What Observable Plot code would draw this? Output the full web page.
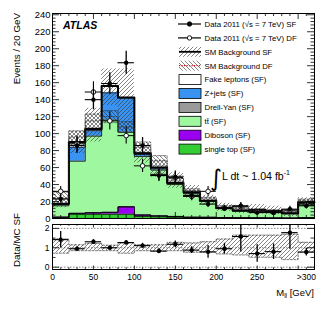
<!DOCTYPE html>
<html><head><meta charset="utf-8">
<script src="https://cdn.jsdelivr.net/npm/d3@7"></script>
<script src="https://cdn.jsdelivr.net/npm/@observablehq/plot@0.6"></script>
<style>
html,body{margin:0;padding:0;background:#fff;}
#wrap{position:relative;width:331px;height:318px;overflow:hidden;font-family:"Liberation Sans",Arial,Helvetica,sans-serif;}
#wrap > svg{position:absolute;left:0;overflow:visible;}
</style></head><body>
<div id="wrap"></div>
<script>
// ---------- data ----------
const binEdges = [0,20,40,60,80,100,120,140,160,180,200,220,240,260,280,300,320];
const xTickValues = [0,50,100,150,200,250,310];
const xTickLabels = ["0","50","100","150","200","250",">300"];
const yTickValues = [0,20,40,60,80,100,120,140,160,180,200,220,240];
const ratioTickValues = [0,1,2];

// SF background components, stacked bottom to top
const singleTop = [1,5,5,5,5,2.5,2,1.5,1,1,0.7,0.5,0.5,0.4,0.3,0.5];
const diboson   = [0.5,0.8,1.5,2,8.5,1.5,1,0.8,0.5,0.4,0.3,0.3,0.2,0.2,0.2,0.4];
const drellYan  = [0.3,0.5,0.5,0.5,0.5,0.3,0.2,0.2,0.1,0.1,0.1,0.1,0.1,0.1,0.1,0.1];
const ttbar     = [13.2,61.2,90,108.5,87.5,68.7,53.8,37.5,27.4,18.5,10.4,7.7,8.3,7.2,4.9,16.5];
const zjets     = [1.5,16.5,6.5,32,40.5,2.5,1.5,1,1,0.5,0.5,0.4,0.4,0.3,0.3,0.5];
const fakes     = [1,6,2,8,0.5,1.5,1.5,1,1,0.5,0.5,0.5,0.5,0.5,0.4,1];

const sfBandLo = [12.6,76.5,90,133,103,65.5,49,35.7,24,16,8.5,6,5.1,4.4,2.4,14.6];
const sfBandHi = [25.4,103.5,130,176,176,88.5,69,53.8,38.8,27.5,18,15.7,16.5,14.4,10.5,24.3];

const dfTotal  = [24,96,115,120,108,84,68,47,33,23,13.5,11,10,9,8,21];
const dfBandLo = [17,89,107,113,102,78,62,44.5,31,21.2,12,9.5,8.5,7.8,6.8,19.2];
const dfBandHi = [31,103,123,127,114,90,74,50,35,25,15,12.5,11.5,10.2,9.2,22.8];

const dataSF    = [23,86,140,159,183.5,86,50.6,49,27,17,12,15,7,7,11,15];
const dataSFErr = [5,9.3,12,12.6,13.5,9.3,7.1,7,5.2,4.1,3.5,3.9,2.6,2.6,3.3,3.9];
const dataDF    = [32,88,149,115,97.6,62,52,48,26,32,12,14,8,7,10,16];
const dataDFErr = [5.7,9.4,12.2,10.7,9.9,7.9,7.2,6.9,5.1,5.7,3.5,3.7,2.8,2.6,3.1,4];

const ratio       = [1.42,0.95,1.31,1.0,1.27,1.11,0.83,1.18,0.88,0.79,0.95,1.58,0.7,0.8,1.78,0.78];
const ratioErr    = [0.42,0.1,0.11,0.08,0.1,0.12,0.12,0.17,0.17,0.33,0.28,0.8,0.45,0.4,0.85,0.2];
const ratioBandLo = [0.72,0.85,0.85,0.85,0.72,0.85,0.82,0.85,0.77,0.77,0.68,0.63,0.51,0.51,0.39,0.77];
const ratioBandHi = [1.45,1.15,1.23,1.13,1.25,1.15,1.15,1.28,1.25,1.31,1.45,1.65,1.65,1.65,1.7,1.28];

const compNames  = ["single top (SF)","Diboson (SF)","Drell-Yan (SF)","tt\u0304 (SF)","Z+jets (SF)","Fake leptons (SF)"];
const compValues = [singleTop, diboson, drellYan, ttbar, zjets, fakes];
const compColors = ["#33cc33","#9b00f0","#9a9a9a","#9ff79f","#3a93f0","#ffffff"];

const legendLabels = ["Data 2011 (\u221As = 7 TeV) SF","Data 2011 (\u221As = 7 TeV) DF","SM Background SF","SM Background DF",
  "Fake leptons (SF)","Z+jets (SF)","Drell-Yan (SF)","tt\u0304 (SF)","Diboson (SF)","single top (SF)"];
const legendKinds  = ["dataSF","dataDF","bandSF","bandDF","box","box","box","box","box","box"];
const legendColors = [null,null,null,null,"#ffffff","#3a93f0","#9a9a9a","#9ff79f","#9b00f0","#33cc33"];

// ---------- helpers ----------
const N = binEdges.length - 1;
const bins = d3.range(N).map(i => ({i, lo: binEdges[i], hi: binEdges[i+1], mid: (binEdges[i]+binEdges[i+1])/2}));
const steps = vals => { const p = vals.map((v,i)=>({x: binEdges[i], y: v})); p.push({x: binEdges[N], y: vals[N-1]}); return p; };
const bandSteps = (lo, hi) => { const p = lo.map((v,i)=>({x: binEdges[i], y1: v, y2: hi[i]})); p.push({x: binEdges[N], y1: lo[N-1], y2: hi[N-1]}); return p; };

let cum = new Array(N).fill(0);
const layers = compValues.map(vals => {
  const lo = cum.slice();
  cum = cum.map((c,i) => c + vals[i]);
  return {lo, hi: cum.slice()};
});
const sfTotal = cum.slice();

const FONT = '"Liberation Sans", Arial, Helvetica, sans-serif';
const W = 331, mL = 52, mR = 17;
const mainH = 220, mT = 13, mB = 2;
const plotW = W - mL - mR, plotH = mainH - mT - mB;
const rH = 98, rT = 4, rB = 49, rPlotH = rH - rT - rB;

const wrap = document.getElementById("wrap");

const defsSvg = d3.select(wrap).append("svg").attr("width",0).attr("height",0).style("position","absolute");
const defs = defsSvg.append("defs");
defs.append("pattern").attr("id","hSF").attr("patternUnits","userSpaceOnUse").attr("width",4).attr("height",4)
  .append("path").attr("d","M-1,1 L1,-1 M0,4 L4,0 M3,5 L5,3").attr("stroke","#333").attr("stroke-width",0.6);
defs.append("pattern").attr("id","hDF").attr("patternUnits","userSpaceOnUse").attr("width",4).attr("height",4)
  .append("path").attr("d","M-1,3 L1,5 M0,0 L4,4 M3,-1 L5,1").attr("stroke","#333").attr("stroke-width",0.6);

function frameTicks(xMaj, xMin, yMaj, yMin, pw, ph, xl, yl) {
  const t = {stroke: "black", strokeWidth: 0.8};
  return [
    Plot.ruleY(yMaj, {y: d => d, insetRight: pw - yl, ...t}),
    Plot.ruleY(yMaj, {y: d => d, insetLeft: pw - yl, ...t}),
    Plot.ruleY(yMin, {y: d => d, insetRight: pw - yl/2, ...t}),
    Plot.ruleY(yMin, {y: d => d, insetLeft: pw - yl/2, ...t}),
    Plot.ruleX(xMaj, {x: d => d, insetTop: ph - xl, ...t}),
    Plot.ruleX(xMaj, {x: d => d, insetBottom: ph - xl, ...t}),
    Plot.ruleX(xMin, {x: d => d, insetTop: ph - xl/2, ...t}),
    Plot.ruleX(xMin, {x: d => d, insetBottom: ph - xl/2, ...t})
  ];
}
const xMaj = d3.range(0, 301, 50);
const xMin = d3.range(0, 321, 10).filter(v => v % 50 !== 0);
const yMin = d3.range(0, 242, 4).filter(v => v % 20 !== 0);

// ---------- main panel ----------
const mainMarks = [];
layers.forEach((L, k) => {
  mainMarks.push(Plot.area(bandSteps(L.lo, L.hi), {x1: "x", y1: "y1", y2: "y2", curve: "step-after", fill: compColors[k]}));
});
layers.forEach((L, k) => {
  mainMarks.push(Plot.line(steps(L.hi), {x: "x", y: "y", curve: "step-after", stroke: "black", strokeWidth: 0.8}));
});
mainMarks.push(
  Plot.area(bandSteps(dfBandLo, dfBandHi), {x1: "x", y1: "y1", y2: "y2", curve: "step-after", fill: "url(#hDF)"}),
  Plot.line(steps(dfBandLo), {x: "x", y: "y", curve: "step-after", stroke: "#222", strokeWidth: 0.6, strokeDasharray: "2,1.5"}),
  Plot.line(steps(dfBandHi), {x: "x", y: "y", curve: "step-after", stroke: "#222", strokeWidth: 0.6, strokeDasharray: "2,1.5"}),
  Plot.area(bandSteps(sfBandLo, sfBandHi), {x1: "x", y1: "y1", y2: "y2", curve: "step-after", fill: "url(#hSF)"}),
  Plot.line(steps(sfTotal), {x: "x", y: "y", curve: "step-after", stroke: "black", strokeWidth: 2}),
  Plot.line(steps(dfTotal), {x: "x", y: "y", curve: "step-after", stroke: "#333", strokeWidth: 0.8, strokeDasharray: "1,1.5"}),
  Plot.ruleX(bins, {x: "mid", y1: d => dataDF[d.i] - dataDFErr[d.i], y2: d => dataDF[d.i] + dataDFErr[d.i], stroke: "black", strokeWidth: 1.1}),
  Plot.ruleY(bins, {y: d => dataDF[d.i], x1: "lo", x2: "hi", stroke: "black", strokeWidth: 1}),
  Plot.dot(bins, {x: "mid", y: d => dataDF[d.i], r: 2.3, fill: "white", stroke: "black", strokeWidth: 0.9}),
  Plot.ruleX(bins, {x: "mid", y1: d => dataSF[d.i] - dataSFErr[d.i], y2: d => dataSF[d.i] + dataSFErr[d.i], stroke: "black", strokeWidth: 1.3}),
  Plot.ruleY(bins, {y: d => dataSF[d.i], x1: "lo", x2: "hi", stroke: "black", strokeWidth: 1.1}),
  Plot.dot(bins, {x: "mid", y: d => dataSF[d.i], r: 2.2, fill: "black"}),
  ...frameTicks(xMaj, xMin, yTickValues, yMin, plotW, plotH, 6, 7),
  Plot.frame({stroke: "black", strokeWidth: 1}),
  Plot.axisY(yTickValues, {anchor: "left", tickSize: 0, tickPadding: 2, label: null, fontSize: 9.4})
);

const mainSvg = Plot.plot({
  width: W, height: mainH, marginTop: mT, marginBottom: mB, marginLeft: mL, marginRight: mR,
  x: {domain: [0, 320], axis: null},
  y: {domain: [0, 241.5], axis: null},
  style: {fontFamily: FONT, fontSize: "9.4px", background: "transparent", color: "black", overflow: "visible"},
  marks: mainMarks
});
mainSvg.style.top = "0px";
wrap.appendChild(mainSvg);

const ms = d3.select(mainSvg);
ms.append("text").attr("transform", "translate(19.5,13) rotate(-90)").attr("text-anchor", "end")
  .attr("font-family", FONT).attr("font-size", 9.8).text("Events / 20 GeV");
ms.append("text").attr("x", 63).attr("y", 29.3).attr("text-anchor", "start").attr("font-family", FONT).attr("font-size", 10.5)
  .attr("font-weight", "bold").attr("font-style", "italic").text("ATLAS");
ms.append("text").attr("x", 210).attr("y", 186).attr("text-anchor", "start").attr("font-family", '"DejaVu Sans", sans-serif').attr("font-size", 23).text("\u222B");
const lt = ms.append("text").attr("x", 222).attr("y", 179.5).attr("text-anchor", "start").attr("font-family", FONT).attr("font-size", 10.6);
lt.append("tspan").text("L dt ~ 1.04 fb");
lt.append("tspan").attr("dy", -4.5).attr("font-size", 7).text("-1");

const lg = ms.append("g");
legendLabels.forEach((lab, k) => {
  const c = 24 + k * 13.9;
  const g = lg.append("g");
  const kind = legendKinds[k];
  if (kind === "dataSF" || kind === "dataDF") {
    g.append("line").attr("x1", 178).attr("x2", 201).attr("y1", c).attr("y2", c).attr("stroke", "black").attr("stroke-width", 1.2);
    g.append("circle").attr("cx", 189.5).attr("cy", c).attr("r", 2.2)
      .attr("fill", kind === "dataSF" ? "black" : "white").attr("stroke", "black").attr("stroke-width", 0.9);
  } else if (kind === "bandSF" || kind === "bandDF") {
    g.append("rect").attr("x", 179).attr("y", c - 5).attr("width", 22).attr("height", 10)
      .attr("fill", kind === "bandSF" ? "url(#hSF)" : "url(#hDF)");
    g.append("line").attr("x1", 179).attr("x2", 201).attr("y1", c).attr("y2", c)
      .attr("stroke", kind === "bandSF" ? "black" : "#e01010").attr("stroke-width", kind === "bandSF" ? 1.8 : 1.3)
      .attr("stroke-dasharray", kind === "bandSF" ? null : "1.2,1.3");
  } else {
    g.append("rect").attr("x", 179).attr("y", c - 5).attr("width", 22).attr("height", 10)
      .attr("fill", legendColors[k]).attr("stroke", "black").attr("stroke-width", 0.8);
  }
  g.append("text").attr("x", 204.5).attr("y", c + 2.8).attr("text-anchor", "start").attr("font-family", FONT).attr("font-size", 7.8).text(lab);
});

// ---------- ratio panel ----------
const rTop = 2.2;
const rMinor = [0.5, 1.5];
const ratioSvg = Plot.plot({
  width: W, height: rH, marginTop: rT, marginBottom: rB, marginLeft: mL, marginRight: mR,
  x: {domain: [0, 320], axis: null},
  y: {domain: [-0.12, rTop], axis: null},
  style: {fontFamily: FONT, fontSize: "8.5px", background: "transparent", color: "black", overflow: "visible"},
  marks: [
    Plot.ruleY([0, 1, 2], {y: d => d, stroke: "#333", strokeWidth: 0.6, strokeDasharray: "1.5,1.5"}),
    Plot.area(bandSteps(ratioBandLo, ratioBandHi), {x1: "x", y1: "y1", y2: "y2", curve: "step-after", fill: "url(#hSF)"}),
    Plot.line(steps(ratioBandLo), {x: "x", y: "y", curve: "step-after", stroke: "#222", strokeWidth: 0.6, strokeDasharray: "2,1.5"}),
    Plot.line(steps(ratioBandHi), {x: "x", y: "y", curve: "step-after", stroke: "#222", strokeWidth: 0.6, strokeDasharray: "2,1.5"}),
    Plot.ruleX(bins, {x: "mid", y1: d => ratio[d.i] - ratioErr[d.i], y2: d => Math.min(rTop, ratio[d.i] + ratioErr[d.i]), stroke: "black", strokeWidth: 1.3}),
    Plot.ruleY(bins, {y: d => ratio[d.i], x1: "lo", x2: "hi", stroke: "black", strokeWidth: 1.1}),
    Plot.dot(bins, {x: "mid", y: d => ratio[d.i], r: 2.2, fill: "black"}),
    ...frameTicks(xMaj, xMin, ratioTickValues, rMinor, plotW, rPlotH, 3.5, 7),
    Plot.frame({stroke: "black", strokeWidth: 1}),
    Plot.axisY(ratioTickValues, {anchor: "left", tickSize: 0, tickPadding: 3, label: null, fontSize: 8.5}),
    Plot.axisX(xTickValues, {anchor: "bottom", tickSize: 0, tickPadding: 4.5, label: null, fontSize: 8.5,
      tickFormat: d => xTickLabels[xTickValues.indexOf(d)]})
  ]
});
ratioSvg.style.top = mainH + "px";
wrap.appendChild(ratioSvg);

const rs = d3.select(ratioSvg);
rs.append("text").attr("transform", "translate(19.5,20) rotate(-90)").attr("text-anchor", "middle")
  .attr("font-family", FONT).attr("font-size", 9.8).text("Data/MC SF");
const xl = rs.append("text").attr("x", 314).attr("y", 75.5).attr("text-anchor", "end")
  .attr("font-family", FONT).attr("font-size", 9.5);
xl.append("tspan").text("M");
xl.append("tspan").attr("dy", 2.5).attr("font-size", 6.5).text("ll");
xl.append("tspan").attr("dy", -2.5).text(" [GeV]");
</script>
</body></html>
